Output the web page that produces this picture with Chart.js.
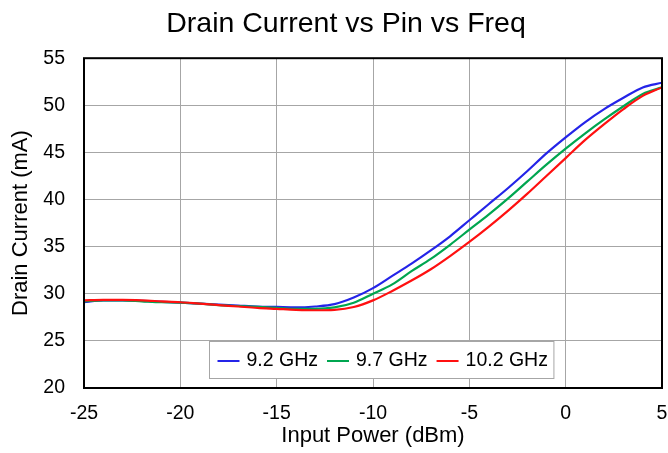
<!DOCTYPE html>
<html>
<head>
<meta charset="utf-8">
<script src="https://cdn.jsdelivr.net/npm/chart.js@4.4.0/dist/chart.umd.min.js"></script>
<style>
  html, body { margin: 0; padding: 0; background: #fff; }
  #wrap { width: 668px; height: 453px; }
</style>
</head>
<body>
<div id="wrap"><canvas id="myChart" width="668" height="453"></canvas></div>
<script>
const chartTitle = 'Drain Current vs Pin vs Freq';
const xTitle = 'Input Power (dBm)';
const yTitle = 'Drain Current (mA)';

const seriesNames = ['9.2 GHz', '9.7 GHz', '10.2 GHz'];
const seriesColors = ['#2424e8', '#00a650', '#ff1010'];

// input power, dBm
const pinDbm = [-25, -24, -23, -22, -21, -20, -19, -18, -17, -16, -15, -14, -13, -12, -11, -10,
                -9, -8, -7, -6, -5, -4, -3, -2, -1, 0, 1, 2, 3, 4, 5];

// drain current, mA
const current92 = [29.1, 29.3, 29.3, 29.25, 29.15, 29.05, 28.95, 28.85, 28.75, 28.65, 28.6, 28.55, 28.65, 28.9, 29.6, 30.6,
                   31.9, 33.2, 34.6, 36.1, 37.8, 39.5, 41.2, 43.0, 44.9, 46.6, 48.2, 49.6, 50.8, 51.9, 52.4];
const current97 = [29.2, 29.3, 29.3, 29.2, 29.1, 29.05, 28.95, 28.8, 28.7, 28.6, 28.5, 28.4, 28.4, 28.55, 29.05, 30.0,
                   31.0, 32.4, 33.7, 35.2, 36.8, 38.4, 40.1, 41.9, 43.7, 45.4, 47.0, 48.5, 49.9, 51.2, 51.9];
const current102 = [29.3, 29.35, 29.35, 29.3, 29.2, 29.1, 28.95, 28.8, 28.65, 28.5, 28.4, 28.3, 28.25, 28.3, 28.6, 29.3,
                    30.3, 31.4, 32.6, 34.0, 35.5, 37.1, 38.8, 40.6, 42.5, 44.4, 46.3, 48.0, 49.6, 51.0, 51.9];

const xTicks = [-25, -20, -15, -10, -5, 0, 5];
const yTicks = [20, 25, 30, 35, 40, 45, 50, 55];

const seriesValues = [current92, current97, current102];
const FONT = "'Liberation Sans', Arial, sans-serif";

// frame round the plot area
const framePlugin = {
    id: 'frame',
    afterDatasetsDraw(chart) {
        const a = chart.chartArea;
        const ctx = chart.ctx;
        ctx.save();
        ctx.strokeStyle = '#000';
        ctx.lineWidth = 2;
        ctx.strokeRect(a.left, a.top, a.right - a.left, a.bottom - a.top);
        ctx.restore();
    }
};

// legend box sitting inside the plot area, near the bottom
const insideLegend = {
    id: 'insideLegend',
    afterDraw(chart) {
        const a = chart.chartArea;
        const ctx = chart.ctx;
        const padL = 8, padR = 6, lineLen = 22, gapLT = 7, gapItem = 9, boxH = 37;
        ctx.save();
        ctx.font = '19.5px ' + FONT;
        const items = chart.data.datasets.map(ds => ({
            text: ds.label, color: ds.borderColor, w: ctx.measureText(ds.label).width
        }));
        let boxW = padL + padR;
        items.forEach((it, i) => {
            boxW += lineLen + gapLT + it.w + (i < items.length - 1 ? gapItem : 0);
        });
        const cx = (a.left + a.right) / 2 + 8;
        const x0 = Math.round(cx - boxW / 2) + 0.5;
        const y0 = Math.round(a.bottom - 10 - boxH) + 0.5;
        ctx.fillStyle = '#fff';
        ctx.fillRect(x0, y0, boxW, boxH);
        ctx.strokeStyle = '#a6a6a6';
        ctx.lineWidth = 1;
        ctx.strokeRect(x0, y0, boxW, boxH);
        const cy = y0 + boxH / 2 + 1;
        let x = x0 + padL;
        ctx.textBaseline = 'middle';
        ctx.textAlign = 'left';
        items.forEach(it => {
            ctx.strokeStyle = it.color;
            ctx.lineWidth = 2;
            ctx.beginPath();
            ctx.moveTo(x, cy);
            ctx.lineTo(x + lineLen, cy);
            ctx.stroke();
            x += lineLen + gapLT;
            ctx.fillStyle = '#000';
            ctx.fillText(it.text, x, cy);
            x += it.w + gapItem;
        });
        ctx.restore();
    }
};

document.addEventListener('DOMContentLoaded', function () {
    const ctx = document.getElementById('myChart').getContext('2d');
    const datasets = seriesNames.map((name, i) => ({
        label: name,
        data: pinDbm.map((p, j) => ({ x: p, y: seriesValues[i][j] })),
        borderColor: seriesColors[i],
        backgroundColor: seriesColors[i],
        borderWidth: 2.2,
        pointRadius: 0,
        cubicInterpolationMode: 'monotone',
        fill: false,
        order: seriesNames.length - i
    }));

    new Chart(ctx, {
        type: 'line',
        data: { datasets: datasets },
        options: {
            responsive: false,
            animation: false,
            events: [],
            // left padding also pushes the title centre to the right, like the original
            layout: { padding: { left: 30, right: 6, top: 0, bottom: 0 } },
            plugins: {
                legend: { display: false },
                tooltip: { enabled: false },
                title: {
                    display: true,
                    text: chartTitle,
                    color: '#000',
                    font: { family: FONT, size: 28.5, weight: 'normal' },
                    padding: { top: 7, bottom: 17 }
                }
            },
            scales: {
                x: {
                    type: 'linear',
                    min: xTicks[0],
                    max: xTicks[xTicks.length - 1],
                    afterBuildTicks: s => { s.ticks = xTicks.map(v => ({ value: v })); },
                    afterFit: s => { s.height = 65; s.paddingLeft = 0; s.paddingRight = 0; },
                    grid: { color: '#a6a6a6', lineWidth: 1, drawTicks: false },
                    border: { display: false },
                    ticks: {
                        color: '#000',
                        font: { family: FONT, size: 19.5 },
                        padding: 14,
                        maxRotation: 0
                    },
                    title: {
                        display: true,
                        text: xTitle,
                        color: '#000',
                        font: { family: FONT, size: 22 },
                        padding: { top: 0, bottom: 4 }
                    }
                },
                y: {
                    type: 'linear',
                    min: yTicks[0],
                    max: yTicks[yTicks.length - 1],
                    afterBuildTicks: s => { s.ticks = yTicks.map(v => ({ value: v })); },
                    afterFit: s => { s.width = 54; s.paddingTop = 0; s.paddingBottom = 0; },
                    grid: { color: '#a6a6a6', lineWidth: 1, drawTicks: false },
                    border: { display: false },
                    ticks: {
                        color: '#000',
                        font: { family: FONT, size: 19.5 },
                        padding: 19
                    },
                    title: {
                        display: true,
                        text: yTitle,
                        color: '#000',
                        font: { family: FONT, size: 22 },
                        padding: { top: -22, bottom: 0 }
                    }
                }
            }
        },
        plugins: [framePlugin, insideLegend]
    });
});
</script>
</body>
</html>
